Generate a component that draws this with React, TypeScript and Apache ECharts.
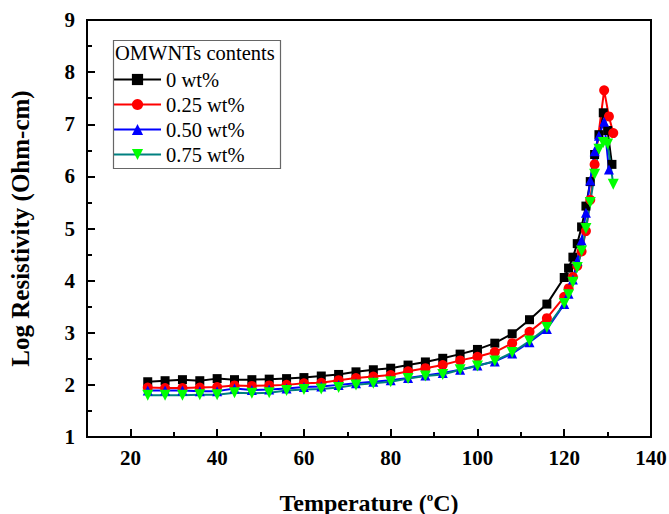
import React, { useEffect, useRef } from "react";
import * as echarts from "echarts";

// Temperature (°C) sampling points
const tempBase = [24, 28, 32, 36, 40, 44, 48, 52, 56, 60, 64, 68, 72, 76, 80, 84, 88, 92, 96, 100, 104, 108, 112, 116, 120];
const temp0 = [...tempBase, 121, 122, 123, 124, 125, 126, 127, 128, 129, 130, 131];
const temp25 = [...tempBase, 121, 122, 123, 124, 125, 126, 127, 129.2, 130.3, 131.3];
const temp50 = [...tempBase, 121, 122, 123, 124, 125, 126, 127, 128, 129.2, 130.3];
const temp75 = [...tempBase, 121, 122, 123, 124, 125, 126, 127, 128, 129, 130, 131.3];

// Log resistivity (Ohm-cm)
const res0 = [2.06, 2.08, 2.10, 2.08, 2.12, 2.10, 2.10, 2.11, 2.12, 2.14, 2.17, 2.20, 2.25, 2.29, 2.32, 2.38, 2.44, 2.51, 2.59, 2.68, 2.80, 2.98, 3.25, 3.55, 4.06,
  4.24, 4.45, 4.71, 5.03, 5.43, 5.90, 6.42, 6.80, 7.22, 6.88, 6.23];
const res25 = [1.95, 1.94, 1.94, 1.95, 1.96, 1.99, 1.98, 1.99, 2.00, 2.03, 2.04, 2.09, 2.13, 2.16, 2.19, 2.26, 2.32, 2.38, 2.47, 2.54, 2.63, 2.80, 3.02, 3.28, 3.69,
  3.85, 4.07, 4.28, 4.56, 4.95, 5.55, 6.23, 7.65, 7.15, 6.83];
const res50 = [1.89, 1.89, 1.89, 1.88, 1.88, 1.93, 1.90, 1.91, 1.93, 1.96, 1.97, 2.00, 2.03, 2.06, 2.09, 2.13, 2.18, 2.23, 2.29, 2.37, 2.45, 2.60, 2.82, 3.07, 3.55,
  3.75, 4.02, 4.38, 4.77, 5.30, 5.92, 6.48, 6.78, 7.05, 6.13];
const res75 = [1.80, 1.80, 1.80, 1.81, 1.81, 1.85, 1.84, 1.85, 1.89, 1.91, 1.92, 1.95, 2.00, 2.03, 2.06, 2.12, 2.17, 2.20, 2.29, 2.36, 2.46, 2.62, 2.84, 3.10, 3.56,
  3.73, 3.97, 4.25, 4.57, 5.00, 5.50, 6.04, 6.52, 6.65, 6.62, 5.85];

const seriesNames = ["0 wt%", "0.25 wt%", "0.50 wt%", "0.75 wt%"];
const xMajorTicks = [20, 40, 60, 80, 100, 120, 140];
const xMinorTicks = [30, 50, 70, 90, 110, 130];

const SERIF = "'Liberation Serif', 'Times New Roman', serif";

const zip = (xs: number[], ys: number[]) => xs.map((x, i) => [x, ys[i]]);

export default function App() {
  const ref = useRef<HTMLDivElement>(null);

  useEffect(() => {
    document.body.style.margin = "0";
    if (!ref.current) return;
    const chart = echarts.init(ref.current, null, { renderer: "svg" });

    const lineSeries = (
      name: string,
      data: number[][],
      symbol: string,
      size: number,
      lineColor: string,
      markerColor: string,
      rotate = 0
    ) => ({
      name,
      type: "line",
      data,
      symbol,
      symbolSize: size,
      symbolRotate: rotate,
      showAllSymbol: true,
      lineStyle: { color: lineColor, width: 2 },
      itemStyle: { color: markerColor, borderWidth: 0 },
      emphasis: { disabled: true },
    });

    chart.setOption({
      animation: false,
      backgroundColor: "#fff",
      grid: {
        left: 87,
        right: 18,
        top: 20,
        bottom: 77,
        show: true,
        borderColor: "#000",
        borderWidth: 2,
        outerBoundsMode: "none",
        containLabel: false,
      },
      xAxis: [
        {
          type: "value",
          min: 10,
          max: 140,
          interval: 10,
          name: "Temperature ({sup|o}C)",
          nameLocation: "middle",
          nameGap: 53,
          nameTextStyle: {
            fontFamily: SERIF,
            fontWeight: "bold",
            fontSize: 24,
            color: "#000",
            rich: {
              sup: { fontFamily: SERIF, fontWeight: "bold", fontSize: 13, color: "#000", verticalAlign: "top", padding: [0, 0, 12, 0] },
            },
          },
          axisLine: { show: true, lineStyle: { color: "#000", width: 2 } },
          axisTick: { show: true, inside: true, length: 8, lineStyle: { color: "#000", width: 2 }, customValues: xMajorTicks },
          axisLabel: {
            customValues: xMajorTicks,
            margin: 10,
            fontFamily: SERIF,
            fontWeight: "bold",
            fontSize: 21,
            color: "#000",
          },
          splitLine: { show: false },
        },
        {
          type: "value",
          min: 10,
          max: 140,
          interval: 10,
          position: "bottom",
          axisLine: { show: false },
          axisTick: { show: true, inside: true, length: 5, lineStyle: { color: "#000", width: 2 }, customValues: xMinorTicks },
          axisLabel: { show: false },
          splitLine: { show: false },
        },
      ],
      yAxis: {
        type: "value",
        min: 1,
        max: 9,
        interval: 1,
        name: "Log Resistivity (Ohm-cm)",
        nameLocation: "middle",
        nameGap: 54,
        nameTextStyle: { fontFamily: SERIF, fontWeight: "bold", fontSize: 25, color: "#000" },
        axisLine: { show: true, lineStyle: { color: "#000", width: 2 } },
        axisTick: { show: true, inside: true, length: 8, lineStyle: { color: "#000", width: 2 } },
        minorTick: { show: true, splitNumber: 2, length: 5, lineStyle: { color: "#000", width: 2 } },
        axisLabel: { margin: 12, fontFamily: SERIF, fontWeight: "bold", fontSize: 21, color: "#000" },
        splitLine: { show: false },
      },
      legend: {
        data: seriesNames,
        orient: "vertical",
        left: 113,
        top: 69,
        itemWidth: 47,
        itemHeight: 14,
        itemGap: 4,
        padding: 0,
        textStyle: { fontFamily: SERIF, fontSize: 20.5, color: "#000", padding: [0, 0, 0, 0] },
        selectedMode: false,
      },
      graphic: [
        {
          type: "rect",
          left: 111,
          top: 38,
          shape: { width: 167, height: 128 },
          style: { fill: "none", stroke: "#666", lineWidth: 1.2 },
          z: 10,
        },
        {
          type: "text",
          left: 115,
          top: 42,
          style: { text: "OMWNTs contents", font: `20.5px ${SERIF}`, fill: "#000" },
          z: 10,
        },
      ],
      series: [
        lineSeries(seriesNames[0], zip(temp0, res0), "rect", 9, "#000000", "#000000"),
        lineSeries(seriesNames[1], zip(temp25, res25), "circle", 10, "#ff0000", "#ff0000"),
        lineSeries(seriesNames[2], zip(temp50, res50), "triangle", 10, "#0000ff", "#0000ff"),
        lineSeries(seriesNames[3], zip(temp75, res75), "triangle", 11, "#008080", "#00ff00", 180),
      ],
    });

    return () => chart.dispose();
  }, []);

  return <div ref={ref} style={{ width: 669, height: 514 }} />;
}
